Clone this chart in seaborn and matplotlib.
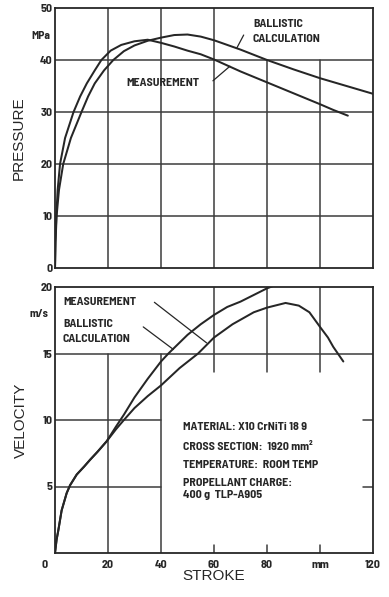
import numpy as np
import pandas as pd
import matplotlib
matplotlib.use("Agg")
import matplotlib.pyplot as plt
from matplotlib import font_manager as fm
import seaborn as sns

# ---------------- data ----------------
p_meas_x = [0, 0.15, 0.5, 1.0, 1.9, 3.8, 7, 9.5, 12, 15, 17.5, 21, 25, 30, 35, 40, 45, 50, 55, 60, 70, 80, 90, 100, 105, 110.5]
p_meas_y = [0, 5, 10, 15, 20, 25, 30, 33, 35.5, 38, 40, 41.8, 42.9, 43.6, 43.9, 43.3, 42.6, 41.8, 41.1, 40.1, 37.8, 35.7, 33.6, 31.5, 30.4, 29.3]

p_ball_x = [0, 0.2, 0.6, 1.5, 3.1, 6, 10, 12.5, 15, 18.5, 22, 26, 30, 35, 40, 45, 50, 55, 60, 70, 80, 90, 100, 110, 120]
p_ball_y = [0, 5, 10, 15, 20, 25, 30, 33, 35.5, 38, 40, 41.7, 42.8, 43.7, 44.3, 44.8, 44.9, 44.5, 43.8, 42.0, 40.0, 38.2, 36.5, 35.0, 33.5]

v_ball_x = [0, 0.6, 1.25, 2.5, 4.4, 5.7, 8.2, 11, 13.2, 16, 19.5, 23, 26, 30, 35, 40, 42.8, 50, 55, 60, 65, 70, 75, 80, 82]
v_ball_y = [0, 1.0, 1.7, 3.2, 4.5, 5.1, 5.9, 6.5, 7.0, 7.6, 8.4, 9.5, 10.4, 11.7, 13.1, 14.4, 15.0, 16.4, 17.2, 17.9, 18.5, 18.9, 19.4, 19.9, 20.05]

v_meas_x = [0, 0.6, 1.25, 2.5, 4.4, 5.7, 8.2, 11, 13.2, 16, 19.5, 23, 26, 30, 35, 40, 47, 54, 60, 67, 75, 80, 87, 92, 96, 100, 103, 105, 108.8]
v_meas_y = [0, 1.0, 1.7, 3.2, 4.5, 5.1, 5.9, 6.5, 7.0, 7.6, 8.4, 9.3, 10.0, 10.9, 11.8, 12.6, 13.9, 15.0, 16.2, 17.2, 18.1, 18.45, 18.8, 18.6, 18.1, 17.0, 16.2, 15.5, 14.4]

p_ticks = [0, 10, 20, 30, 40, 50]
p_ticklabels = ["0", "10", "20", "30", "40", "50"]
v_ticks = [5, 10, 15, 20]
v_ticklabels = ["5", "10", "15", "20"]
x_ticks = [0, 20, 40, 60, 80, 100, 120]
x_ticklabels = ["", "20", "40", "60", "80", "mm", "120"]

info_lines = ["MATERIAL: X10 CrNiTi 18 9",
              "CROSS SECTION:  1920 mm\u00b2",
              "TEMPERATURE:  ROOM TEMP",
              "PROPELLANT CHARGE:",
              "400 g  TLP-A905"]

# ---------------- style ----------------
sns.set_style("white")
names = {f.name for f in fm.fontManager.ttflist}
NARROW = None
for fam in ["Barlow Semi Condensed", "Roboto Condensed", "Archivo Narrow", "PT Sans Narrow", "Liberation Sans Narrow"]:
    if fam in names:
        NARROW = dict(family=[fam, "DejaVu Sans"], weight="bold")
        break
if NARROW is None:
    NARROW = dict(family="DejaVu Sans", weight="bold")
LABEL_FONT = "Liberation Sans" if "Liberation Sans" in names else "DejaVu Sans"
plt.rcParams["font.family"] = [LABEL_FONT, "DejaVu Sans"]

INK = "#262626"
GRID = "#3c3c3c"
GLW = 1.1
CLW = 1.45
FS = 8.6

fig = plt.figure(figsize=(3.89, 5.97), dpi=100)
L, R = 55 / 389, 373 / 389
ax1 = fig.add_axes([L, 1 - 268 / 597, R - L, (268 - 8) / 597])
ax2 = fig.add_axes([L, 1 - 553 / 597, R - L, (553 - 287) / 597])

# ---------------- pressure ----------------
dfp = pd.concat([
    pd.DataFrame({"stroke": p_meas_x, "value": p_meas_y, "series": "Measurement"}),
    pd.DataFrame({"stroke": p_ball_x, "value": p_ball_y, "series": "Ballistic"}),
])
sns.lineplot(data=dfp, x="stroke", y="value", hue="series", units="series",
             estimator=None, sort=False, palette={"Measurement": INK, "Ballistic": INK},
             legend=False, lw=CLW, ax=ax1, zorder=3)
ax1.set_xlim(0, 120)
ax1.set_ylim(0, 50)
for y in [10, 20, 30, 40]:
    ax1.axhline(y, color=GRID, lw=GLW, zorder=1)
for x in [20, 40, 60]:
    ax1.axvline(x, color=GRID, lw=GLW, zorder=1)
for x in [80, 100]:
    ax1.axvline(x, ymax=0.8, color=GRID, lw=GLW, zorder=1)
ax1.set_yticks(p_ticks)
ax1.set_yticklabels(p_ticklabels, fontsize=FS, **NARROW)
ax1.set_xticks([])
ax1.set_xlabel("")
ax1.set_ylabel("PRESSURE", fontsize=11, color=INK)
ax1.yaxis.label.set_va("center")
ax1.yaxis.set_label_coords(-0.113, 0.5)
ax1.text(-1.9, 44.6, "MPa", ha="right", va="center", fontsize=FS - 0.4, color=INK, **NARROW)
ax1.text(74.7, 46.9, "BALLISTIC", ha="left", va="center", fontsize=FS, color=INK, **NARROW)
ax1.text(74.7, 44.0, "CALCULATION", ha="left", va="center", fontsize=FS, color=INK, **NARROW)
ax1.plot([71.2, 68.6], [44.8, 42.3], color=INK, lw=0.9, zorder=3)
ax1.text(27.0, 35.6, "MEASUREMENT", ha="left", va="center", fontsize=FS, color=INK, **NARROW)
ax1.plot([59.6, 66.0], [36.0, 38.8], color=INK, lw=0.9, zorder=3)

# ---------------- velocity ----------------
dfv = pd.concat([
    pd.DataFrame({"stroke": v_meas_x, "value": v_meas_y, "series": "Measurement"}),
    pd.DataFrame({"stroke": v_ball_x, "value": v_ball_y, "series": "Ballistic"}),
])
sns.lineplot(data=dfv, x="stroke", y="value", hue="series", units="series",
             estimator=None, sort=False, palette={"Measurement": INK, "Ballistic": INK},
             legend=False, lw=CLW, ax=ax2, zorder=3)
ax2.set_xlim(0, 120)
ax2.set_ylim(0, 20)
ax2.axhline(15, color=GRID, lw=GLW, zorder=1)
for y in [5, 10]:
    ax2.axhline(y, xmax=1 / 3, color=GRID, lw=GLW, zorder=1)
    ax2.axhline(y, xmin=0.968, color=GRID, lw=GLW, zorder=1)
for x in [20, 40]:
    ax2.axvline(x, ymax=0.75, color=GRID, lw=GLW, zorder=1)
for x in [60, 80, 100]:
    ax2.axvline(x, ymin=0.682, color=GRID, lw=GLW, zorder=1)
    ax2.axvline(x, ymax=0.03, color=GRID, lw=GLW, zorder=1)
ax2.set_yticks(v_ticks)
ax2.set_yticklabels(v_ticklabels, fontsize=FS, **NARROW)
ax2.set_xticks(x_ticks)
ax2.set_xticklabels(x_ticklabels, fontsize=FS, **NARROW)
ax2.text(-3.8, -0.9, "0", ha="center", va="center", fontsize=FS, color=INK, clip_on=False, **NARROW)
ax2.set_ylabel("VELOCITY", fontsize=11, color=INK)
ax2.yaxis.label.set_va("center")
ax2.yaxis.set_label_coords(-0.107, 0.5)
ax2.set_xlabel("STROKE", fontsize=11, color=INK)
ax2.xaxis.label.set_va("center")
ax2.xaxis.set_label_coords(0.5, -0.086)
ax2.text(-2.4, 18.0, "m/s", ha="right", va="center", fontsize=FS - 0.4, color=INK, **NARROW)
ax2.text(3.0, 18.9, "MEASUREMENT", ha="left", va="center", fontsize=FS, color=INK, **NARROW)
ax2.plot([37.5, 57.2], [18.85, 15.8], color=INK, lw=0.9, zorder=3)
ax2.text(3.0, 17.25, "BALLISTIC", ha="left", va="center", fontsize=FS, color=INK, **NARROW)
ax2.text(3.0, 16.1, "CALCULATION", ha="left", va="center", fontsize=FS, color=INK, **NARROW)
ax2.plot([33.3, 44.7], [17.0, 15.3], color=INK, lw=0.9, zorder=3)
for txt, y in zip(info_lines, [9.5, 8.0, 6.6, 5.24, 4.36]):
    ax2.text(48.4, y, txt, ha="left", va="center", fontsize=FS, color=INK, **NARROW)

for ax in (ax1, ax2):
    ax.tick_params(length=0, pad=2, colors=INK)
    for s in ax.spines.values():
        s.set_visible(True)
        s.set_color(INK)
        s.set_linewidth(1.3)
    ax.set_facecolor("white")
ax2.tick_params(axis="x", pad=5)

fig.savefig("out.png", dpi=100, facecolor="white")
